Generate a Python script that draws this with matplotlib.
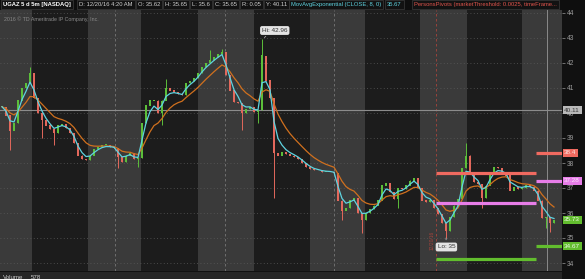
import numpy as np
import pandas as pd
import matplotlib.pyplot as plt
import matplotlib.transforms as mtransforms

plt.rcParams["font.family"] = ["Liberation Sans", "DejaVu Sans"]

# ----- data (5m closes, resampled) -----
closes = [40.25, 39.9, 39.3, 39.6, 40.5, 41.0, 41.2, 41.6, 40.6, 40.0,
          39.7, 39.5, 39.35, 39.2, 39.5, 39.55, 39.4, 39.2, 38.8, 38.3,
          38.15, 38.1, 38.3, 38.55, 38.65, 38.7, 38.7, 38.65, 38.6, 38.25,
          38.05, 38.3, 38.4, 38.15, 38.2, 39.6, 40.3, 40.5, 40.5, 40.0,
          40.5, 41.0, 40.9, 40.85, 40.75, 40.7, 41.2, 41.3, 41.4, 41.6,
          41.85, 42.0, 42.1, 42.25, 42.35, 42.45, 41.5, 40.9, 40.45, 40.4,
          40.0, 40.15, 40.25, 40.05, 40.1, 42.3, 41.3, 40.6, 38.4, 38.3,
          38.45, 38.35, 38.3, 38.25, 38.15, 38.0, 37.85, 37.75, 37.7, 37.7,
          37.65, 37.65, 37.65, 37.6, 36.5, 36.1, 36.2, 36.5, 36.6, 36.0,
          35.7, 36.0, 36.15, 36.3, 36.5, 37.1, 37.2, 36.85, 36.55, 37.0,
          36.95, 37.1, 37.3, 37.4, 37.0, 36.5, 36.45, 36.5, 36.2, 35.95,
          35.6, 35.3, 35.85, 36.3, 36.55, 37.8, 38.3, 37.6, 37.25, 37.15,
          36.6, 37.1, 37.65, 37.85, 37.8, 37.65, 37.5, 36.9, 37.05, 36.95,
          37.0, 37.1, 37.05, 36.9, 36.5, 35.8, 35.85, 35.6, 35.73]

hi_idx = [7, 41, 52, 55, 65, 116]
hi_val = [41.85, 41.35, 42.5, 42.55, 42.96, 38.8]
lo_idx = [2, 10, 13, 29, 34, 40, 60, 64, 68, 85, 90, 99, 111, 120, 136, 137]
lo_val = [38.5, 39.0, 38.7, 37.8, 37.85, 39.5, 39.3, 39.6, 36.6, 35.7,
          35.2, 36.2, 35.0, 36.2, 35.4, 35.25]

session_edges = [-0.5, 7.5, 21.5, 34.75, 49, 63, 77, 90.75, 104.5, 116.25, 130, 140]
day_breaks = [28.25, 55.75, 83, 136.25]
today_break = 108.5

prev_close = 40.11
last_price = 35.73
pivot_split = 133.5
pivot_red = [37.6, 38.4]
pivot_mag = [36.4, 37.28]
pivot_grn = [34.16, 34.67]

price_ticks = list(range(34, 45))

# ----- colors -----
bg_light = "#3a3a3a"
bg_dark = "#1c1c1c"
up_col = "#5cbf3a"
dn_col = "#e3685c"
cyan = "#5fd3e0"
orange = "#d0701e"
red_piv = "#f06a60"
mag_piv = "#e77de8"
grn_piv = "#62bd2e"

W, H = 585, 279
fig = plt.figure(figsize=(W / 100, H / 100), dpi=100, facecolor="#111111")
ax = fig.add_axes([0, 1 - 271 / H, 562 / W, 261 / H])
ax.set_facecolor(bg_dark)

x = np.arange(len(closes))
c = np.array(closes)
o = np.concatenate([[c[0]], c[:-1]])
hi = np.maximum(o, c)
lo = np.minimum(o, c)
for i, v in zip(hi_idx, hi_val):
    hi[i] = v
for i, v in zip(lo_idx, lo_val):
    lo[i] = v

# session shading
for k in range(len(session_edges) - 1):
    col = bg_light if k % 2 == 0 else bg_dark
    ax.axvspan(session_edges[k], session_edges[k + 1], color=col, lw=0, zorder=0)

# grid
for p in price_ticks:
    ax.axhline(p, color="#5a5a5a", lw=0.6, ls=(0, (1, 3)), zorder=1)
for d in day_breaks[:-1]:
    ax.axvline(d, color="#777777", lw=0.6, ls=(0, (3, 3)), zorder=1)
ax.axvline(day_breaks[-1], color="#8a8a8a", lw=0.7, zorder=1)
ax.axvline(today_break, color="#a8443c", lw=0.6, ls=(0, (3, 3)), zorder=1)
ax.axhline(prev_close, color="#8c8c8c", lw=0.8, zorder=1)

# candles
cols = np.where(c >= o, up_col, dn_col)
ax.vlines(x, lo, hi, colors=cols, lw=0.7, zorder=3)
body = np.maximum(np.abs(c - o), 0.04)
ax.bar(x, body, bottom=np.minimum(o, c), width=0.6, color=cols, lw=0, zorder=3)

# moving averages
ema_fast = pd.Series(closes).ewm(span=3, adjust=False).mean()
ema_slow = pd.Series(closes).ewm(span=9, adjust=False).mean()
ax.plot(x, ema_slow, color=orange, lw=0.9, zorder=4)
ax.plot(x, ema_fast, color=cyan, lw=0.9, zorder=4)

# pivots
xmax = session_edges[-1]
for vals, col in [(pivot_red, red_piv), (pivot_mag, mag_piv), (pivot_grn, grn_piv)]:
    ax.hlines(vals[0], today_break, pivot_split, color=col, lw=2.3, zorder=5)
    ax.hlines(vals[1], pivot_split, xmax, color=col, lw=2.3, zorder=5)

ax.set_xlim(session_edges[0], xmax)
ax.set_ylim(33.68, 44.12)
ax.set_yticks(price_ticks)
ax.set_yticklabels([str(p) for p in price_ticks])
ax.yaxis.tick_right()
ax.tick_params(axis="y", colors="#9a9a9a", labelsize=4.8, length=2, width=0.5, pad=1.5)
ax.tick_params(axis="x", bottom=False, labelbottom=False)
for s in ax.spines.values():
    s.set_visible(False)

# right-side price flags
trans = mtransforms.blended_transform_factory(ax.transAxes, ax.transData)
flags = [(prev_close, "#b9b9b9", "#3a3a3a"), (pivot_red[1], red_piv, "#fbe3e0"),
         (pivot_mag[1], mag_piv, "#fbe6fb"), (last_price, grn_piv, "#eef8e8"),
         (pivot_grn[1], grn_piv, "#eef8e8")]
for val, col, tcol in flags:
    ax.text(1.004, val, f"{val:g}", transform=trans, fontsize=4.6, color=tcol,
            va="center", ha="left", clip_on=False, zorder=6,
            bbox=dict(boxstyle="square,pad=0.25", fc=col, ec="none"))

# hi / lo callouts
ax.annotate("Hi: 42.96", xy=(65, 42.96), xytext=(65.0, 43.3), fontsize=4.6,
            color="#303030", ha="left", va="center", zorder=6,
            bbox=dict(boxstyle="round,pad=0.3", fc="#e4e4e4", ec="none"),
            arrowprops=dict(arrowstyle="-", color="#d0d0d0", lw=0.5))
ax.annotate("Lo: 35", xy=(111, 35.0), xytext=(108.9, 34.64), fontsize=4.6,
            color="#303030", ha="left", va="center", zorder=6,
            bbox=dict(boxstyle="round,pad=0.3", fc="#e4e4e4", ec="none"),
            arrowprops=dict(arrowstyle="-", color="#d0d0d0", lw=0.5))
ax.text(today_break - 0.3, 34.9, "12/20/16", rotation=90, fontsize=3.5,
        color="#a8443c", ha="right", va="center", zorder=2)

ax.text(0.008, 0.975, "2016 \u00a9 TD Ameritrade IP Company, Inc.", transform=ax.transAxes,
        fontsize=3.8, color="#8a8a8a", ha="left", va="top")

# ----- header bar -----
fig.patches.append(plt.Rectangle((0, 1 - 9.5 / H), 1, 9.5 / H, transform=fig.transFigure,
                                 fc="#0e0e0e", ec="none", zorder=0))
hdr = [(3, "UGAZ 5 d 5m [NASDAQ]", "#ffffff", "bold"),
       (79, "D: 12/20/16 4:20 AM", "#cfcfcf", "normal"),
       (138, "O: 35.62", "#cfcfcf", "normal"),
       (165, "H: 35.65", "#cfcfcf", "normal"),
       (192, "L: 35.6", "#cfcfcf", "normal"),
       (215, "C: 35.65", "#cfcfcf", "normal"),
       (242, "R: 0.05", "#cfcfcf", "normal"),
       (266, "Y: 40.11", "#cfcfcf", "normal"),
       (291, "MovAvgExponential (CLOSE, 8, 0)", cyan, "normal"),
       (387, "35.67", cyan, "normal"),
       (414, "PersonsPivots (marketThreshold: 0.0025, timeFrame...", "#e0544c", "normal")]
for px, txt, col, wt in hdr:
    fig.text(px / W, 1 - 4.8 / H, txt, fontsize=4.2, color=col, weight=wt,
             ha="left", va="center",
             bbox=dict(boxstyle="square,pad=0.35", fc="#121212", ec="#3c3c3c", lw=0.5))

# ----- volume strip -----
fig.patches.append(plt.Rectangle((0, 0), 562 / W, 7 / H, transform=fig.transFigure,
                                 fc="#262626", ec="none", zorder=0))
fig.text(3 / W, 1.5 / H, "Volume", fontsize=4.4, color="#cfcfcf", ha="left", va="center")
fig.text(31 / W, 1.5 / H, "578", fontsize=4.4, color="#cfcfcf", ha="left", va="center")

fig.savefig("out.png", dpi=100, facecolor=fig.get_facecolor())
